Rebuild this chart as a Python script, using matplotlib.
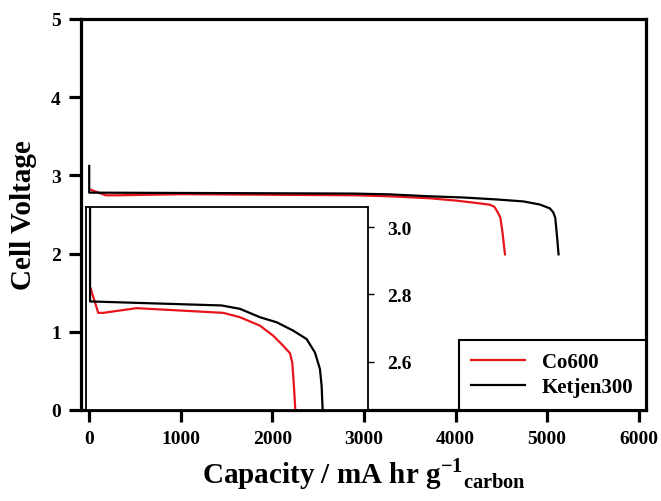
import matplotlib.pyplot as plt

plt.rcParams["font.family"] = "Liberation Serif"
plt.rcParams["font.weight"] = "bold"
plt.rcParams["mathtext.fontset"] = "custom"
plt.rcParams["mathtext.rm"] = "Liberation Serif:bold"
plt.rcParams["mathtext.bf"] = "Liberation Serif:bold"

# discharge curves (capacity in mA hr g-1 carbon, voltage in V)
co600_cap = [20, 35, 107, 179, 289, 1019, 2914, 3280, 3717, 4008, 4227, 4374,
             4424, 4461, 4490, 4515, 4540]
co600_v = [2.817, 2.807, 2.777, 2.745, 2.745, 2.759, 2.745, 2.732, 2.707, 2.677,
           2.647, 2.625, 2.598, 2.528, 2.458, 2.25, 1.99]

ketjen_cap = [0, 0, 2879, 3280, 3717, 4083, 4446, 4739, 4921, 5030, 5067, 5089,
              5110, 5125]
ketjen_v = [3.12, 2.779, 2.767, 2.757, 2.732, 2.717, 2.692, 2.667, 2.627, 2.578,
            2.528, 2.458, 2.2, 1.99]

labels = ["Co600", "Ketjen300"]
colors = ["#e8141b", "black"]

fig = plt.figure(figsize=(6.61, 5.02), dpi=100)
ax = fig.add_axes([0.1225, 0.1813, 0.8548, 0.779])

ax.plot(co600_cap, co600_v, color=colors[0], lw=1.6, label=labels[0])
ax.plot(ketjen_cap, ketjen_v, color=colors[1], lw=1.6, label=labels[1])

ax.set_xlim(-90, 6080)
ax.set_ylim(0, 5)
ax.set_xticks(range(0, 7000, 1000))
ax.set_yticks(range(0, 6))
for s in ax.spines.values():
    s.set_linewidth(2.3)
ax.tick_params(direction="out", length=8.5, width=2.3, labelsize=14, pad=6)
ax.set_xlabel(r"Capacity / mA hr g$^{\mathrm{-1}}$$_{\mathrm{carbon}}$",
              fontsize=21, fontweight="bold", labelpad=6)
ax.set_ylabel("Cell Voltage", fontsize=21, fontweight="bold", labelpad=10)

leg = ax.legend(loc="lower right", borderaxespad=0, fancybox=False,
                framealpha=1, edgecolor="black", fontsize=15,
                handlelength=2.6, borderpad=0.6, labelspacing=0.25,
                handletextpad=0.8)
leg.get_frame().set_linewidth(1.5)

# inset zoom of the plateau
ins = fig.add_axes([0.130, 0.1813, 0.4266, 0.4044])
ins.plot(co600_cap, co600_v, color=colors[0], lw=1.6)
ins.plot(ketjen_cap, ketjen_v, color=colors[1], lw=1.6)
ins.set_xlim(-90, 6080)
ins.set_ylim(2.456, 3.06)
ins.set_xticks([])
ins.set_yticks([2.6, 2.8, 3.0])
ins.set_yticklabels(["2.6", "2.8", "3.0"])
ins.yaxis.tick_right()
for s in ins.spines.values():
    s.set_linewidth(1.3)
ins.tick_params(direction="out", length=4, width=1, labelsize=14, pad=10)

fig.savefig("out.png", dpi=100)
